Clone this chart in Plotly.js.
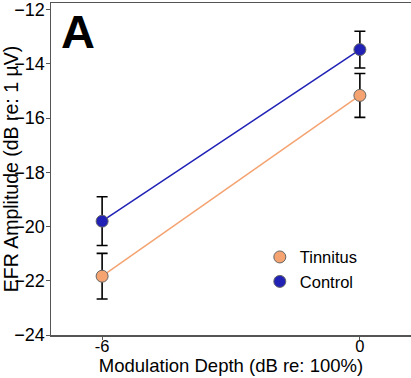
<!DOCTYPE html>
<html><head><meta charset="utf-8">
<script src="https://cdn.plot.ly/plotly-3.0.1.min.js"></script>
<style>html,body{margin:0;padding:0;background:#fff}#chart{width:411px;height:378px}</style>
</head><body><div id="chart"></div>
<script>
const depths = [-6, 0];
const tinnitus = [-21.83, -15.16];
const tinnitusErr = [0.84, 0.81];
const control = [-19.8, -13.47];
const controlErr = [0.9, 0.68];
const yTicks = [-24, -22, -20, -18, -16, -14, -12];

const fam = 'Liberation Sans, Arial, sans-serif';
function lineTrace(y, color) {
  return {x: depths, y: y, type: 'scatter', mode: 'lines', showlegend: false,
    line: {color: color, width: 1.5}, hoverinfo: 'skip'};
}
function markerTrace(name, y, err, color) {
  return {
    x: depths, y: y, name: name, type: 'scatter', mode: 'markers',
    marker: {color: color, size: 12, line: {color: '#666', width: 1}},
    error_y: {type: 'data', array: err, visible: true, color: '#000', thickness: 1.6, width: 5.5}
  };
}
const data = [
  lineTrace(tinnitus, '#F5A371'),
  lineTrace(control, '#2121B5'),
  markerTrace('Tinnitus', tinnitus, tinnitusErr, '#F5A371'),
  markerTrace('Control', control, controlErr, '#2121B5')
];
const layout = {
  width: 411, height: 378,
  margin: {l: 51, r: 0, t: 3, b: 43},
  paper_bgcolor: '#fff', plot_bgcolor: '#fff',
  font: {family: fam, color: '#000'},
  showlegend: true,
  legend: {x: 0.58, y: 0.287, xanchor: 'left', yanchor: 'top', font: {size: 16.5, family: fam, color: '#000'},
    tracegroupgap: 0, bgcolor: 'rgba(0,0,0,0)', itemwidth: 30},
  xaxis: {
    range: [-7.19, 1.19], tickvals: depths, ticktext: ['-6', '0'],
    showgrid: false, zeroline: false, showline: true, mirror: true,
    linecolor: '#555', linewidth: 1.5, ticks: 'outside', ticklen: 3, tickcolor: '#555',
    ticklabelstandoff: -7,
    tickfont: {size: 16.5, family: fam, color: '#000'},
    title: {text: 'Modulation Depth (dB re: 100%)', font: {size: 18.5, family: fam, color: '#000'}, standoff: 4}
  },
  yaxis: {
    range: [-24, -11.75], tickvals: yTicks,
    showgrid: false, zeroline: false, showline: true,
    linecolor: '#555', linewidth: 1.5, ticks: 'outside', ticklen: 4, tickcolor: '#555',
    ticklabelstandoff: -3,
    tickfont: {size: 18, family: fam, color: '#000'},
    title: {text: 'EFR Amplitude (dB re: 1 µV)', font: {size: 19.5, family: fam, color: '#000'}, standoff: 2}
  },
  annotations: [{
    text: '<b>A</b>', xref: 'paper', yref: 'paper', x: 0.022, y: 1.0,
    xanchor: 'left', yanchor: 'top', showarrow: false,
    font: {size: 47, family: fam, color: '#000'}
  }]
};
Plotly.newPlot('chart', data, layout, {displayModeBar: false, staticPlot: true});
</script></body></html>
